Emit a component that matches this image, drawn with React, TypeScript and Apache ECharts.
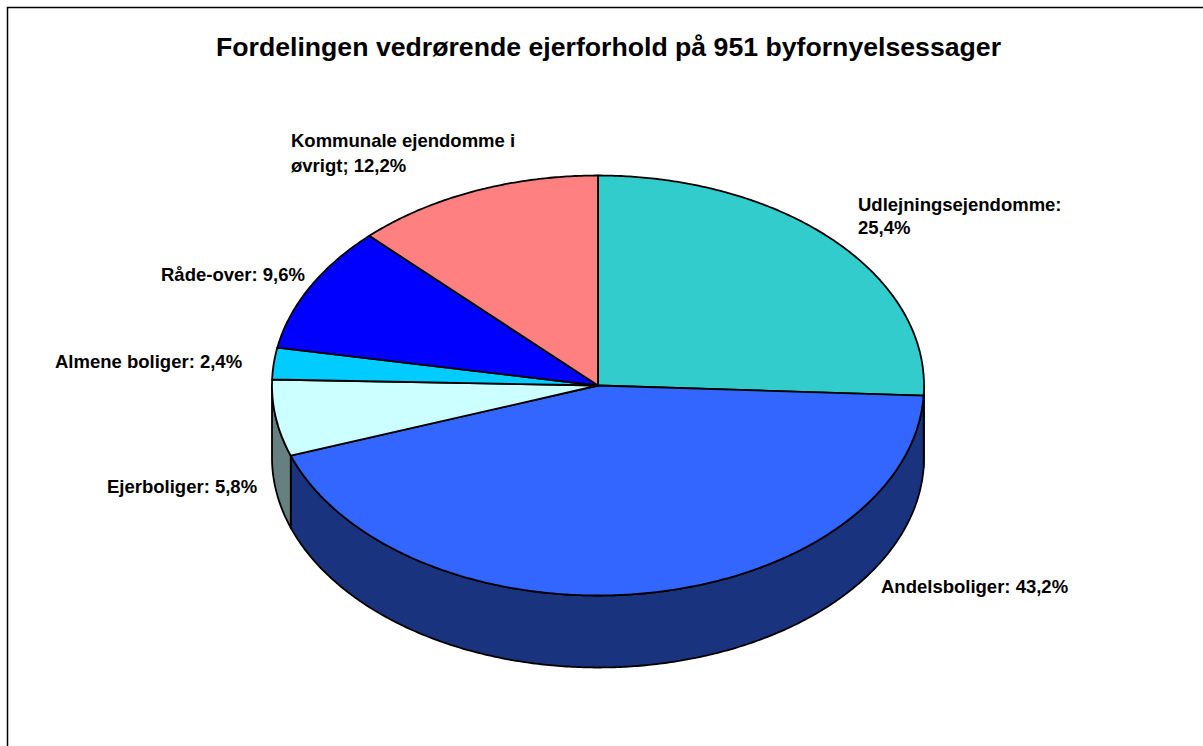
import React, { useEffect, useRef } from "react";
import * as echarts from "echarts";

const titleText = "Fordelingen vedrørende ejerforhold på 951 byfornyelsessager";
const categories = ["Udlejningsejendomme", "Andelsboliger", "Ejerboliger", "Almene boliger", "Råde-over", "Kommunale ejendomme i øvrigt"];
const values = [25.4, 43.2, 5.8, 2.4, 9.6, 12.2];
const labelTexts = [
  "Udlejningsejendomme:\n25,4%",
  "Andelsboliger: 43,2%",
  "Ejerboliger: 5,8%",
  "Almene boliger: 2,4%",
  "Råde-over: 9,6%",
  "Kommunale ejendomme i\nøvrigt; 12,2%",
];
const topColors = ["#33CCCC", "#3366FF", "#CCFFFF", "#00CCFF", "#0000FF", "#FF8080"];
const sideColors = ["#1A6666", "#1A337F", "#667F7F", "#00667F", "#00007F", "#7F4040"];

const CX = 598, CY = 385.5, RX = 326, RY = 210, DEPTH = 72;
const labelPos = [
  [858, 216], [881, 586.5], [107, 486.5], [55, 361.5], [161, 274.5], [291, 153],
];

const total = values.reduce((a, b) => a + b, 0);
const sliceData = (() => {
  let acc = 0;
  return values.map((v, i) => {
    const start = (acc / total) * 360;
    acc += v;
    return { name: categories[i], value: [start, (acc / total) * 360, i] };
  });
})();

function pt(deg: number, dy = 0): number[] {
  const r = (deg * Math.PI) / 180;
  return [CX + RX * Math.sin(r), CY - RY * Math.cos(r) + dy];
}
function arc(a0: number, a1: number, dy = 0): number[][] {
  const n = Math.max(2, Math.ceil((a1 - a0) * 2));
  const out: number[][] = [];
  for (let i = 0; i <= n; i++) out.push(pt(a0 + ((a1 - a0) * i) / n, dy));
  return out;
}

export default function App() {
  const ref = useRef<HTMLDivElement>(null);
  useEffect(() => {
    document.body.style.margin = "0";
    const chart = echarts.init(ref.current!, null, { renderer: "svg" });
    const lineStyle = { stroke: "#000", lineWidth: 1.8, lineJoin: "round" };
    chart.setOption({
      animation: false,
      backgroundColor: "#fff",
      title: {
        text: titleText,
        left: 603.5,
        top: 28,
        textAlign: "center",
        textStyle: { fontFamily: "Liberation Sans", fontWeight: "bold", fontSize: 26.67, color: "#000" },
      },
      graphic: [
        { type: "rect", shape: { x: 7.5, y: 7.5, width: 1300, height: 800 }, style: { fill: "none", stroke: "#000", lineWidth: 1.5 }, silent: true },
        ...labelTexts.map((t, i) => ({
          type: "text",
          x: labelPos[i][0],
          y: labelPos[i][1],
          style: { text: t, fill: "#000", font: "bold 18.5px 'Liberation Sans'", lineHeight: i === 5 ? 25 : 23, textVerticalAlign: "middle" },
          silent: true,
        })),
      ],
      series: [
        {
          type: "custom",
          coordinateSystem: "none",
          silent: true,
          data: sliceData,
          renderItem: (_: any, api: any) => {
            const a0 = Math.max(api.value(0), 90);
            const a1 = Math.min(api.value(1), 270);
            if (a1 <= a0) return { type: "group", children: [] };
            const i = api.value(2);
            const points = [...arc(a0, a1), ...arc(a0, a1, DEPTH).reverse()];
            return { type: "polygon", shape: { points }, style: { fill: sideColors[i], ...lineStyle } };
          },
        },
        {
          type: "custom",
          coordinateSystem: "none",
          silent: true,
          data: sliceData,
          renderItem: (_: any, api: any) => {
            const i = api.value(2);
            const points = [[CX, CY], ...arc(api.value(0), api.value(1))];
            return { type: "polygon", shape: { points }, style: { fill: topColors[i], ...lineStyle } };
          },
        },
      ],
    });
    return () => chart.dispose();
  }, []);
  return <div ref={ref} style={{ width: 1203, height: 746 }} />;
}
